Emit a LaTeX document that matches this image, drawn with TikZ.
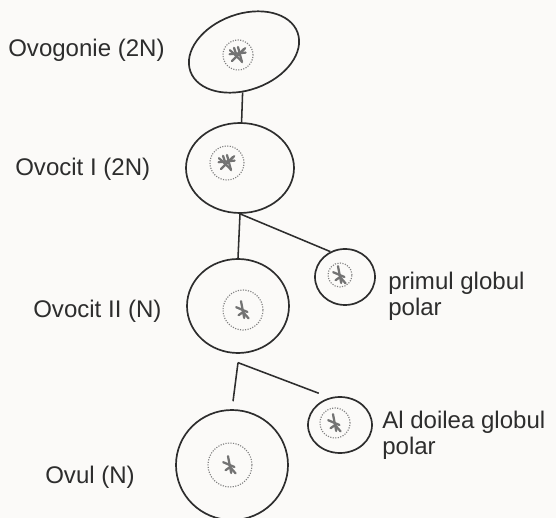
\documentclass[tikz,border=0pt]{standalone}
\usepackage{fontspec}
\setmainfont{Liberation Sans}
\usetikzlibrary{shapes.geometric}

\definecolor{paper}{RGB}{251,250,248}
\definecolor{ink}{RGB}{45,45,45}

\begin{document}
\begin{tikzpicture}
     % Define styles
     \tikzstyle{cell} = [draw=ink, line width=1.2pt, ellipse, inner sep=0pt]
     \tikzstyle{nucleus} = [draw=black!50, densely dotted, line width=0.8pt, circle, inner sep=0pt]
     \tikzstyle{chromo} = [black!55, line width=1.6pt, line cap=round]
     \tikzstyle{link} = [ink, line width=1.1pt]
     \tikzstyle{stage} = [anchor=base west, inner sep=0pt, text=ink, align=left,
                          font=\fontsize{17.1pt}{18.5pt}\selectfont]

     % Page
     \useasboundingbox (0,0) rectangle (13.9,12.95);
     \clip (0,0) rectangle (13.9,12.95);
     \fill[paper] (0,0) rectangle (13.9,12.95);

     % Cells of the line
     \node[cell, minimum width=2.85cm, minimum height=1.9cm, rotate=20] (ovogonie) at (6.1,11.65) {};
     \node[cell, minimum width=2.7cm, minimum height=2.25cm] (ovocit1) at (6.0,8.75) {};
     \node[cell, minimum width=2.55cm, minimum height=2.35cm] (ovocit2) at (5.95,5.3) {};
     \node[cell, minimum width=2.8cm, minimum height=2.75cm] (ovul) at (5.8,1.325) {};

     % Polar bodies
     \node[cell, minimum width=1.5cm, minimum height=1.4cm] (globul1) at (8.625,6.025) {};
     \node[cell, minimum width=1.6cm, minimum height=1.4cm] (globul2) at (8.5,2.325) {};

     % Nuclei
     \node[nucleus, minimum size=0.75cm] (nuc1) at (5.95,11.575) {};
     \node[nucleus, minimum size=0.85cm] (nuc2) at (5.675,8.875) {};
     \node[nucleus, minimum size=1.0cm] (nuc3) at (6.075,5.2) {};
     \node[nucleus, minimum size=1.1cm] (nuc4) at (5.75,1.325) {};
     \node[nucleus, minimum size=0.6cm] (nuc5) at (8.5,6.075) {};
     \node[nucleus, minimum size=0.75cm] (nuc6) at (8.375,2.375) {};

     % Chromosomes, 2N
     \foreach \n in {nuc1,nuc2} {
          \foreach \dx/\dy/\ex/\ey in {-0.2/0.12/0.3/-0.28, -0.15/-0.15/0.3/0.3,
                                       0.0/0.2/0.1/-0.38, -0.21/0.02/0.4/0.04,
                                       0.05/0.05/0.13/0.12, -0.1/0.18/0.05/-0.15} {
               \draw[chromo] ([shift={(\dx,\dy)}]\n.center) -- ++(\ex,\ey);
          }
     }

     % Chromosomes, N
     \foreach \n in {nuc3,nuc4,nuc5,nuc6} {
          \foreach \dx/\dy/\ex/\ey in {-0.05/0.22/0.08/-0.42, -0.17/0.07/0.28/-0.12,
                                       0.0/-0.05/0.14/-0.16, -0.11/-0.13/0.1/0.07} {
               \draw[chromo] ([shift={(\dx,\dy)}]\n.center) -- ++(\ex,\ey);
          }
     }

     % Links between stages
     \draw[link] (ovogonie) -- (ovocit1);
     \draw[link] (ovocit1.south) -- (ovocit2.north);
     \draw[link] (ovocit1.south) -- (globul1.120);
     \coordinate (fork) at ([yshift=-0.22cm]ovocit2.south);
     \draw[link, shorten >=0.2cm] (fork) -- (ovul.north);
     \draw[link, shorten >=0.3cm] (fork) -- (globul2.110);

     % Labels
     \node[stage] (tovogonie) at (0.2,11.525) {Ovogonie (2N)};
     \node[stage] (tovocit1) at (0.375,8.55) {Ovocit I (2N)};
     \node[stage] (tovocit2) at (0.825,5.0) {Ovocit II (N)};
     \node[stage] (tovul) at (1.125,0.85) {Ovul (N)};
     \node[stage] (tglobul1) at (9.7,5.05) {primul globul\\polar};
     \node[stage] (tglobul2) at (9.55,1.575) {Al doilea globul\\polar};

\end{tikzpicture}
\end{document}
